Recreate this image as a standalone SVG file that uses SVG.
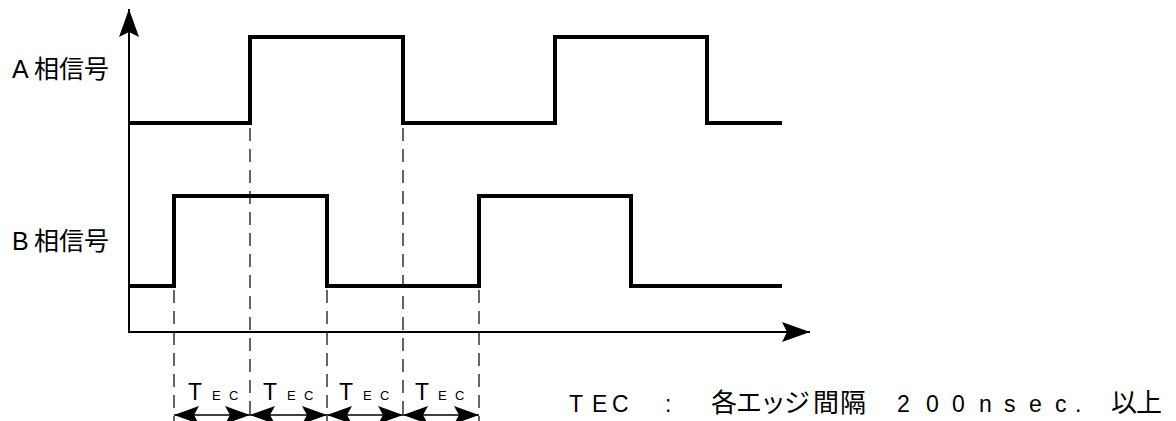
<svg xmlns="http://www.w3.org/2000/svg" width="1176" height="421" viewBox="0 0 1176 421">
  <style>
    .bg { fill: #ffffff; }
    .axis { fill: none; stroke: #000; stroke-width: 2; }
    .sig { fill: none; stroke: #000; stroke-width: 4; stroke-linejoin: miter; stroke-linecap: square; }
    .dash { fill: none; stroke: #000; stroke-width: 1.2; stroke-dasharray: 13 8; }
    .dim { fill: none; stroke: #000; stroke-width: 1.5; }
    .lbl { font-family: "Liberation Sans", "Noto Sans CJK JP", sans-serif; font-size: 25px; fill: #000; }
    .cj { font-family: "Noto Sans CJK JP", sans-serif; }
    .tbig { font-family: "Liberation Sans", "Noto Sans CJK JP", sans-serif; font-size: 23px; fill: #000; }
    .tsml { font-size: 13px; }
    .note { font-family: "Liberation Sans", "Noto Sans CJK JP", sans-serif; font-size: 23px; fill: #000; }
    .ncj { font-family: "Noto Sans CJK JP", sans-serif; font-size: 26px; }
  </style>
  <defs>
    <marker id="ahAxis" viewBox="-29 -11 30 22" refX="0" refY="0" markerWidth="30" markerHeight="22" markerUnits="userSpaceOnUse" orient="auto">
      <path d="M0,0 L-28,-10 L-23,0 L-28,10 Z" fill="#000"/>
    </marker>
    <marker id="ahDim" viewBox="-26 -10 27 20" refX="0" refY="0" markerWidth="27" markerHeight="20" markerUnits="userSpaceOnUse" orient="auto-start-reverse">
      <path d="M0,0 L-25,-9 L-20,0 L-25,9 Z" fill="#000"/>
    </marker>
  </defs>
  <rect class="bg" x="0" y="0" width="1176" height="421"/>

  <g id="labels">
    <text id="label-a" class="lbl" x="12" y="78">A<tspan class="cj" x="34">相信号</tspan></text>
    <text id="label-b" class="lbl" x="12" y="250">B<tspan class="cj" x="34">相信号</tspan></text>
  </g>

  <g id="axes">
    <line class="axis" x1="129" y1="332" x2="129" y2="9" marker-end="url(#ahAxis)"/>
    <line class="axis" x1="128" y1="332" x2="810" y2="332" marker-end="url(#ahAxis)"/>
  </g>

  <g id="signal-a">
    <polyline class="sig" points="130,123 250,123 250,37 403,37 403,123 555,123 555,37 707,37 707,123 780,123"/>
  </g>
  <g id="signal-b">
    <polyline class="sig" points="130,286 174,286 174,196 327,196 327,286 479,286 479,196 631,196 631,286 780,286"/>
  </g>

  <g id="connectors">
    <line class="dash" x1="174" y1="290" x2="174" y2="421"/>
    <line class="dash" x1="250" y1="128" x2="250" y2="421"/>
    <line class="dash" x1="327" y1="290" x2="327" y2="421"/>
    <line class="dash" x1="403" y1="128" x2="403" y2="421"/>
    <line class="dash" x1="479" y1="290" x2="479" y2="421"/>
    <line class="dim" x1="174" y1="415" x2="250" y2="415" marker-start="url(#ahDim)" marker-end="url(#ahDim)"/>
    <line class="dim" x1="250" y1="415" x2="327" y2="415" marker-start="url(#ahDim)" marker-end="url(#ahDim)"/>
    <line class="dim" x1="327" y1="415" x2="403" y2="415" marker-start="url(#ahDim)" marker-end="url(#ahDim)"/>
    <line class="dim" x1="403" y1="415" x2="479" y2="415" marker-start="url(#ahDim)" marker-end="url(#ahDim)"/>
  </g>

  <g id="tec-labels">
    <text class="tbig" x="188" y="400">T<tspan class="tsml" x="212 229">EC</tspan></text>
    <text class="tbig" x="263" y="400">T<tspan class="tsml" x="287 304">EC</tspan></text>
    <text class="tbig" x="339" y="400">T<tspan class="tsml" x="363 380">EC</tspan></text>
    <text class="tbig" x="415" y="400">T<tspan class="tsml" x="438 455">EC</tspan></text>
  </g>

  <g id="note">
    <text class="note" y="412"><tspan x="569 592 612">TEC</tspan> <tspan x="665">:</tspan> <tspan class="ncj" x="711 736 760 784 813 840">各エッジ間隔</tspan> <tspan x="897 926 952 979 1004 1029 1055 1075">200nsec.</tspan> <tspan class="ncj" x="1111 1136">以上</tspan></text>
  </g>
</svg>
